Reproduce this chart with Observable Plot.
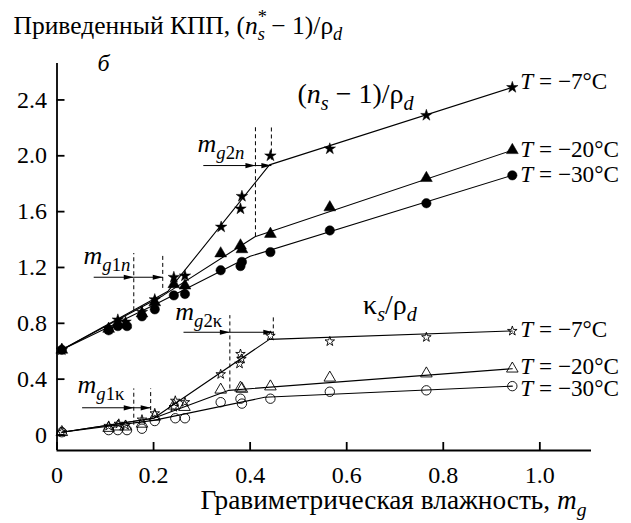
<!DOCTYPE html>
<html><head><meta charset="utf-8">
<script src="https://cdn.jsdelivr.net/npm/d3@7"></script>
<script src="https://cdn.jsdelivr.net/npm/@observablehq/plot@0.6"></script>
<style>
body{margin:0;background:#fff}
svg{display:block}
#chart svg text, #chart svg tspan{font-family:"Liberation Serif",serif !important}
</style>
</head><body><div id="chart"></div>
<script>
// ---------- data ----------
const xTicks = [0, 0.2, 0.4, 0.6, 0.8, 1.0];
const xTickLabels = ["0", "0.2", "0.4", "0.6", "0.8", "1.0"];
const yTicks = [0, 0.4, 0.8, 1.2, 1.6, 2.0, 2.4];
const yTickLabels = ["0", "0.4", "0.8", "1.2", "1.6", "2.0", "2.4"];

// (n_s - 1)/rho_d measured points
const nStar7 = [[0.01,0.61],[0.107,0.76],[0.126,0.825],[0.142,0.81],[0.176,0.88],[0.2025,0.97],[0.242,1.13],[0.265,1.14],[0.34,1.49],[0.38,1.62],[0.383,1.71],[0.442,2.00],[0.565,2.05],[0.765,2.29],[0.943,2.49]];
const nTri20 = [[0.01,0.61],[0.107,0.76],[0.126,0.80],[0.142,0.79],[0.176,0.87],[0.2025,0.95],[0.242,1.08],[0.265,1.07],[0.339,1.30],[0.38,1.357],[0.383,1.33],[0.442,1.44],[0.565,1.63],[0.765,1.84],[0.943,2.04]];
const nCirc30 = [[0.01,0.61],[0.107,0.75],[0.126,0.78],[0.145,0.78],[0.176,0.85],[0.2025,0.90],[0.242,1.00],[0.265,1.01],[0.339,1.18],[0.38,1.21],[0.383,1.24],[0.442,1.31],[0.565,1.465],[0.765,1.66],[0.943,1.86]];
// fitted piecewise lines
const nLine7 = [[0.01,0.61],[0.23,1.03],[0.44,1.935],[0.943,2.49]];
const nLine20 = [[0.01,0.61],[0.22,1.0],[0.41,1.42],[0.943,2.04]];
const nLine30 = [[0.01,0.61],[0.2,0.93],[0.40,1.28],[0.943,1.86]];

// kappa_s/rho_d measured points
const kStar7 = [[0.01,0.02],[0.107,0.065],[0.128,0.08],[0.142,0.07],[0.176,0.11],[0.2025,0.155],[0.245,0.245],[0.242,0.2],[0.265,0.235],[0.339,0.435],[0.378,0.51],[0.382,0.545],[0.38,0.58],[0.442,0.71],[0.565,0.67],[0.765,0.70],[0.943,0.745]];
const kTri20 = [[0.01,0.02],[0.107,0.05],[0.126,0.06],[0.142,0.06],[0.176,0.08],[0.2025,0.13],[0.242,0.21],[0.264,0.20],[0.339,0.324],[0.38,0.338],[0.383,0.33],[0.442,0.347],[0.565,0.41],[0.765,0.44],[0.943,0.475]];
const kCirc30 = [[0.01,0.02],[0.107,0.035],[0.126,0.035],[0.145,0.035],[0.176,0.045],[0.2025,0.10],[0.245,0.12],[0.265,0.12],[0.339,0.235],[0.38,0.26],[0.383,0.225],[0.442,0.26],[0.565,0.31],[0.765,0.32],[0.943,0.35]];
const kLine7 = [[0.01,0.02],[0.2,0.12],[0.44,0.685],[0.943,0.745]];
const kLine20 = [[0.01,0.02],[0.2,0.12],[0.356,0.32],[0.943,0.475]];
const kLine30 = [[0.01,0.02],[0.2,0.105],[0.43,0.27],[0.943,0.35]];

// characteristic moisture values (dashed markers) and arrows
const mgDashes = [
  {x:0.159, y1:0.89, y2:1.30}, {x:0.219, y1:1.05, y2:1.30},
  {x:0.411, y1:1.42, y2:2.22}, {x:0.444, y1:1.97, y2:2.22},
  {x:0.159, y1:0.07, y2:0.33}, {x:0.194, y1:0.175, y2:0.33},
  {x:0.358, y1:0.33, y2:0.855}, {x:0.448, y1:0.71, y2:0.855}
];
const mgArrows = [
  {x1:0.076, x2:0.159, y:1.13}, {x1:0.159, x2:0.219, y:1.13},
  {x1:0.303, x2:0.411, y:1.93}, {x1:0.411, x2:0.444, y:1.93},
  {x1:0.052, x2:0.159, y:0.195}, {x1:0.159, x2:0.194, y:0.195},
  {x1:0.262, x2:0.358, y:0.736}, {x1:0.358, x2:0.448, y:0.736}
];
const mgLabels = [
  {x:0.055, y:1.227, text:"~m~_{~g~1~n~}"},
  {x:0.291, y:2.024, text:"~m~_{~g~2~n~}"},
  {x:0.0425, y:0.304, text:"~m~_{~g~1κ}"},
  {x:0.245, y:0.827, text:"~m~_{~g~2κ}"}
];
const curveLabels = [
  {x:0.498, y:2.38, text:"(~n~_{~s~} − 1)/ρ_{~d~}"},
  {x:0.634, y:0.87, text:"κ_{~s~}/ρ_{~d~}"}
];
const tempLabels = ["~T~ = −7°C", "~T~ = −20°C", "~T~ = −30°C"];
const titleText = "Приведенный КПП, (~n~^{*}_{~s~} − 1)/ρ_{~d~}";
const xLabelText = "Гравиметрическая влажность, ~m~_{~g~}";
const panelLetter = "~б~";

// ---------- styles ----------
const FONT = "Liberation Serif";
const W = 631, H = 523;
const M = {left:56.5, right:40, top:63, bottom:73};
const fw = W - M.left - M.right, fh = H - M.top - M.bottom;
const txt = fs => ({fontFamily: FONT, fontSize: fs, fill: "black"});

const arrowHead = {
  draw(ctx, size) {
    const r = Math.sqrt(size / Math.PI);
    const L = 2.5 * r, hw = 0.65 * r;
    ctx.moveTo(0, 0); ctx.lineTo(-L, -hw); ctx.lineTo(-L, hw); ctx.closePath();
  }
};

const X = d => d[0], Y = d => d[1];
const lineOpt = {x: X, y: Y, stroke: "black", strokeWidth: 1.1};
const tLabel = (pts, i, dy) => Plot.text([pts[pts.length - 1]], {
  ...txt(23.2), x: X, y: Y, text: () => tempLabels[i], dx: 8, dy, textAnchor: "start", lineAnchor: "bottom"
});

const chart = Plot.plot({
  width: W, height: H,
  marginLeft: M.left, marginRight: M.right, marginTop: M.top, marginBottom: M.bottom,
  style: {fontFamily: FONT, background: "white", color: "black"},
  x: {domain: [0, 1.107]},
  y: {domain: [-0.111, 2.661]},
  marks: [
    // axes
    Plot.ruleX([0], {stroke: "black", strokeWidth: 1.8}),
    Plot.ruleY([-0.111], {stroke: "black", strokeWidth: 1.8}),
    Plot.tickX(xTicks, {x: d => d, insetTop: fh - 8, stroke: "black", strokeWidth: 1.8}),
    Plot.tickY(yTicks, {y: d => d, insetRight: fw - 8, stroke: "black", strokeWidth: 1.8}),
    Plot.axisX({...txt(24), ticks: xTicks, tickFormat: d => xTickLabels[xTicks.indexOf(d)], tickSize: 0, tickPadding: 15, label: null}),
    Plot.axisY({...txt(24), ticks: yTicks, tickFormat: d => yTickLabels[yTicks.indexOf(d)], tickSize: 0, tickPadding: 10, label: null}),
    // dashed markers & arrows
    Plot.ruleX(mgDashes, {x: "x", y1: "y1", y2: "y2", stroke: "black", strokeWidth: 1, strokeDasharray: "4,3"}),
    Plot.link(mgArrows, {x1: "x1", x2: "x2", y1: "y", y2: "y", stroke: "black", strokeWidth: 1}),
    Plot.dot(mgArrows, {x: "x2", y: "y", symbol: arrowHead, r: 4, fill: "black", stroke: "none"}),
    // fitted lines
    Plot.line(nLine7, lineOpt), Plot.line(nLine20, lineOpt), Plot.line(nLine30, lineOpt),
    Plot.line(kLine7, lineOpt), Plot.line(kLine20, lineOpt), Plot.line(kLine30, lineOpt),
    // points
    Plot.dot(nStar7, {x: X, y: Y, symbol: "star", r: 3.6, fill: "black", stroke: "black", strokeWidth: 0.5}),
    Plot.dot(nTri20, {x: X, y: Y, symbol: "triangle", r: 4.4, fill: "black", stroke: "black", strokeWidth: 0.5}),
    Plot.dot(nCirc30, {x: X, y: Y, symbol: "circle", r: 4.7, fill: "black", stroke: "black", strokeWidth: 0.5}),
    Plot.dot(kStar7, {x: X, y: Y, symbol: "star", r: 3.0, fill: "none", stroke: "black", strokeWidth: 0.9}),
    Plot.dot(kTri20, {x: X, y: Y, symbol: "triangle", r: 4.3, fill: "none", stroke: "black", strokeWidth: 0.9}),
    Plot.dot(kCirc30, {x: X, y: Y, symbol: "circle", r: 4.7, fill: "none", stroke: "black", strokeWidth: 0.9}),
    // labels
    tLabel(nStar7, 0, 2), tLabel(nTri20, 1, 7), tLabel(nCirc30, 2, 7),
    tLabel(kStar7, 0, 6), tLabel(kTri20, 1, 5), tLabel(kCirc30, 2, 10),
    Plot.text(mgLabels, {...txt(26), x: "x", y: "y", text: "text", textAnchor: "start", lineAnchor: "bottom"}),
    Plot.text(curveLabels, {...txt(28), x: "x", y: "y", text: "text", textAnchor: "start", lineAnchor: "bottom"}),
    Plot.text([titleText], {...txt(25.5), frameAnchor: "top-left", dx: 13 - M.left, dy: 33 - M.top, textAnchor: "start", lineAnchor: "bottom"}),
    Plot.text([panelLetter], {...txt(24), frameAnchor: "top-left", dx: 97 - M.left, dy: 70 - M.top, textAnchor: "start", lineAnchor: "bottom"}),
    Plot.text([xLabelText], {...txt(27.3), frameAnchor: "bottom-right", dx: -5, dy: 58, textAnchor: "end", lineAnchor: "bottom"})
  ]
});
document.getElementById("chart").appendChild(chart);

// ---------- rich text (italics, sub/superscripts) ----------
function parseRich(s) {
  const segs = [];
  let italic = false, level = 0, brk = true, back = false, justClosedSup = false;
  for (let i = 0; i < s.length; i++) {
    const c = s[i];
    if (c === "~") { italic = !italic; continue; }
    if ((c === "_" || c === "^") && s[i + 1] === "{") {
      level = c === "_" ? -1 : 1;
      back = justClosedSup && level === -1;
      brk = true; i++; justClosedSup = false; continue;
    }
    if (c === "}" && level !== 0) { justClosedSup = level === 1; level = 0; brk = true; continue; }
    justClosedSup = false;
    const last = segs[segs.length - 1];
    if (!brk && last && last.italic === italic && last.level === level) last.text += c;
    else { segs.push({text: c, italic, level, back}); back = false; }
    brk = false;
  }
  return segs;
}
function richify(el) {
  const src = el.textContent;
  if (!/[~_^]/.test(src)) return;
  const fs = parseFloat(getComputedStyle(el).fontSize) || 22;
  const segs = parseRich(src);
  el.textContent = "";
  let cur = 0, prev = null;
  for (const seg of segs) {
    const t = document.createElementNS("http://www.w3.org/2000/svg", "tspan");
    t.textContent = seg.text;
    if (seg.italic) t.setAttribute("font-style", "italic");
    if (seg.level !== 0) t.setAttribute("font-size", (fs * 0.72) + "px");
    const target = seg.level === -1 ? 0.27 * fs : seg.level === 1 ? -0.42 * fs : 0;
    if (target !== cur) t.setAttribute("dy", target - cur);
    el.appendChild(t);
    if (seg.back && prev) t.setAttribute("dx", -prev.getComputedTextLength());
    cur = target; prev = t;
  }
}
chart.querySelectorAll("text").forEach(richify);
</script></body></html>
